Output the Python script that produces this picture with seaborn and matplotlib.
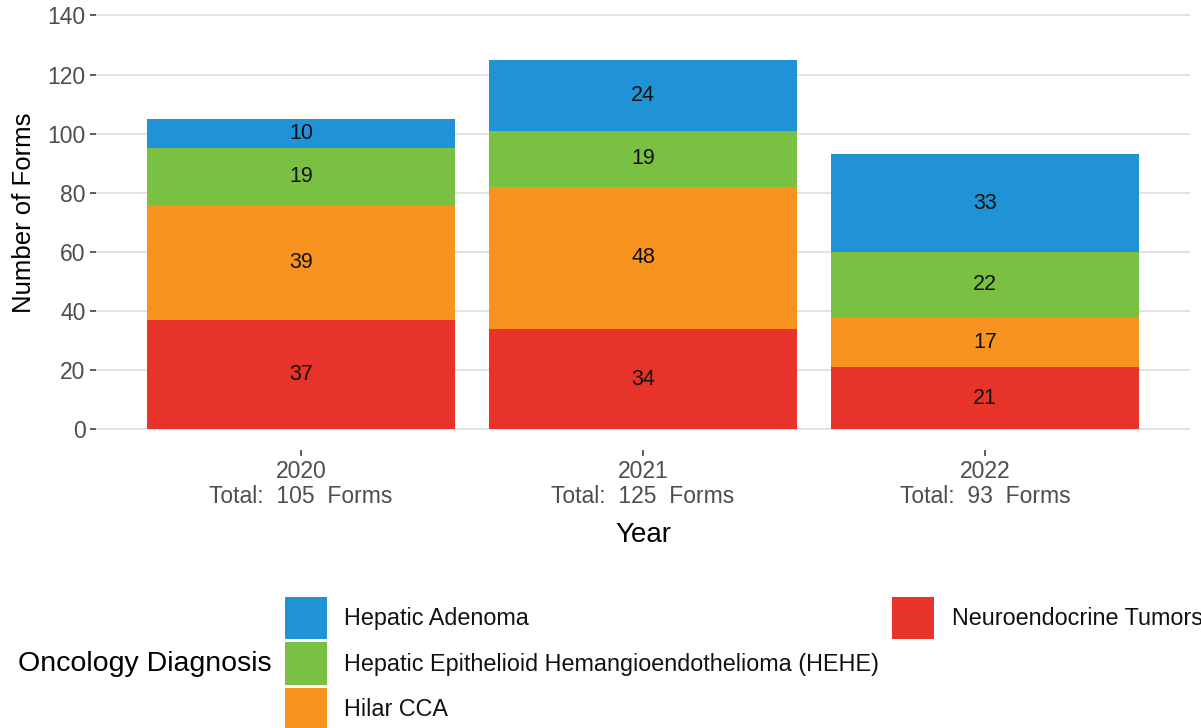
import matplotlib
matplotlib.use("Agg")
import matplotlib.pyplot as plt
import matplotlib.patches as mpatches
import seaborn as sns
import numpy as np
import pandas as pd

years = ["2020", "2021", "2022"]
categories = ["Neuroendocrine Tumors", "Hilar CCA",
              "Hepatic Epithelioid Hemangioendothelioma (HEHE)", "Hepatic Adenoma"]
neuroendocrine = [37, 34, 21]
hilar_cca = [39, 48, 17]
hehe = [19, 19, 22]
hepatic_adenoma = [10, 24, 33]
colors = {"Neuroendocrine Tumors": "#E8332A",
          "Hilar CCA": "#F7931E",
          "Hepatic Epithelioid Hemangioendothelioma (HEHE)": "#7AC143",
          "Hepatic Adenoma": "#1F93D6"}
yticks = [0, 20, 40, 60, 80, 100, 120, 140]

series = {"Neuroendocrine Tumors": neuroendocrine, "Hilar CCA": hilar_cca,
          "Hepatic Epithelioid Hemangioendothelioma (HEHE)": hehe,
          "Hepatic Adenoma": hepatic_adenoma}

sns.set_theme(style="whitegrid")
plt.rcParams['font.family'] = ['Liberation Sans', 'DejaVu Sans']

W, H = 1201, 728
fig = plt.figure(figsize=(W / 100, H / 100), dpi=100)
ax = fig.add_axes([96 / W, 1 - 450 / H, (1190 - 96) / W, 450 / H])

bottom = np.zeros(len(years))
for cat in categories:
    vals = np.array(series[cat], dtype=float)
    df = pd.DataFrame({"Year": years, "Count": vals})
    sns.barplot(data=df, x="Year", y="Count", color=colors[cat], bottom=bottom,
                width=0.9, saturation=1, ax=ax, linewidth=0, edgecolor="none")
    cont = ax.containers[-1]
    ax.bar_label(cont, labels=[str(int(v)) for v in vals], label_type="center",
                 fontsize=15.5, color="#111111")
    bottom = bottom + vals

totals = bottom.astype(int)
ax.set_xticks(range(len(years)))
ax.set_xticklabels([f"{y}\nTotal:  {t}  Forms" for y, t in zip(years, totals)])
ax.set_xlim(-0.6, len(years) - 0.4)
ax.set_ylim(-7, 145.2)
ax.set_yticks(yticks)

for s in ax.spines.values():
    s.set_visible(False)
ax.grid(axis="x", visible=False)
ax.grid(axis="y", color="#DADADA", linewidth=1.1)
ax.set_axisbelow(True)
ax.tick_params(axis="both", which="major", length=4.5, width=1.1, color="#333333",
               labelsize=16.5, labelcolor="#4D4D4D", left=True, bottom=True)
ax.tick_params(axis="y", pad=3)
ax.tick_params(axis="x", pad=3)
for lbl in ax.get_xticklabels():
    lbl.set_linespacing(1.1)

ax.set_xlabel("Year", fontsize=20, color="black", labelpad=10)
ax.set_ylabel("Number of Forms", fontsize=18.5, color="black", labelpad=8)
ax.yaxis.label.set_y(0.527)

# legend
fs = 16.8
col1 = ["Hepatic Adenoma", "Hepatic Epithelioid Hemangioendothelioma (HEHE)", "Hilar CCA"]
col2 = ["Neuroendocrine Tumors"]
common = dict(frameon=False, fontsize=fs, handlelength=1.8, handleheight=2.41,
              labelspacing=0.13, handletextpad=0.75, borderpad=0, borderaxespad=0,
              loc="upper left", labelcolor="#111111")
h1 = [mpatches.Patch(facecolor=colors[c], edgecolor="none") for c in col1]
h2 = [mpatches.Patch(facecolor=colors[c], edgecolor="none") for c in col2]
fig.legend(h1, col1, bbox_to_anchor=(285 / W, 1 - 597 / H), **common)
fig.legend(h2, col2, bbox_to_anchor=(892 / W, 1 - 597 / H), **common)
fig.text(18 / W, 1 - 664 / H, "Oncology Diagnosis", fontsize=20.5, va="center", ha="left",
         color="black")

fig.savefig("out.png", dpi=100, facecolor="white")
